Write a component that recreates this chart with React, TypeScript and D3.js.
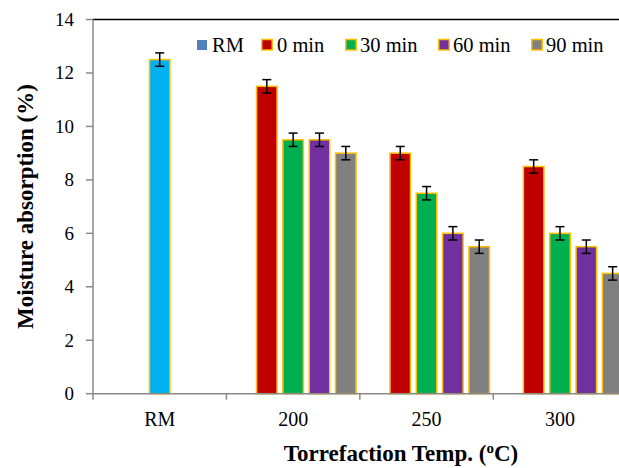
import React from "react";
import * as d3 from "d3";

const categories = ["RM", "200", "250", "300"];
const seriesNames = ["RM", "0 min", "30 min", "60 min", "90 min"];
const rmValues: (number | null)[] = [12.5, null, null, null];
const min0Values: (number | null)[] = [null, 11.5, 9.0, 8.5];
const min30Values: (number | null)[] = [null, 9.5, 7.5, 6.0];
const min60Values: (number | null)[] = [null, 9.5, 6.0, 5.5];
const min90Values: (number | null)[] = [null, 9.0, 5.5, 4.5];
const errorValues = [0.25, 0.25, 0.25, 0.25];
const yTicks = [0, 2, 4, 6, 8, 10, 12, 14];
const barColors = ["#00B0F0", "#C00000", "#00B050", "#7030A0", "#808080"];
const legendColors = ["#4F81BD", "#C00000", "#00B050", "#7030A0", "#808080"];

const W = 619;
const H = 468;
const left = 93;
const right = 626.7;
const top = 19.5;
const bottom = 393.7;
const FONT = "Liberation Serif, Times New Roman, serif";
const fs = { fontFamily: FONT };

export default function App() {
  const allSeries = [rmValues, min0Values, min30Values, min60Values, min90Values];
  const x = d3.scaleBand<string>().domain(categories).range([left, right]).padding(0);
  const xs = d3
    .scaleBand<string>()
    .domain(seriesNames)
    .range([0, x.bandwidth()])
    .paddingInner(0.163)
    .paddingOuter(0.116);
  const y = d3.scaleLinear().domain([0, 14]).range([bottom, top]);
  const bw = xs.bandwidth();

  const bars: React.ReactNode[] = [];
  allSeries.forEach((vals, si) => {
    vals.forEach((v, ci) => {
      if (v == null) return;
      const cat = categories[ci];
      const bx =
        cat === "RM"
          ? (x(cat) as number) + x.bandwidth() / 2 - bw / 2
          : (x(cat) as number) + (xs(seriesNames[si]) as number);
      const err = errorValues[ci];
      const cx = bx + bw / 2;
      bars.push(
        <g key={`b-${si}-${ci}`}>
          <rect
            x={bx + 0.75}
            y={y(v)}
            width={bw - 1.5}
            height={bottom - y(v)}
            fill={barColors[si]}
            stroke="#FFC000"
            strokeWidth={1.5}
          />
          <line x1={cx} x2={cx} y1={y(v + err)} y2={y(v - err)} stroke="#000" strokeWidth={1.5} />
          <line x1={cx - 4.5} x2={cx + 4.5} y1={y(v + err)} y2={y(v + err)} stroke="#000" strokeWidth={1.5} />
          <line x1={cx - 4.5} x2={cx + 4.5} y1={y(v - err)} y2={y(v - err)} stroke="#000" strokeWidth={1.5} />
        </g>
      );
    });
  });

  const legendSwatchX = [197, 261, 345, 438, 531];
  const legendTextX = [212, 277, 360, 453, 546];

  return (
    <svg
      width={W}
      height={H}
      style={{ position: "absolute", left: 0, top: 0, background: "#fff", fontFamily: FONT }}
    >
      <rect x={0} y={0} width={W} height={H} fill="#fff" />
      <line x1={left} x2={right} y1={top} y2={top} stroke="#000" strokeWidth={1.5} />
      <line x1={right} x2={right} y1={top} y2={bottom} stroke="#000" strokeWidth={1.5} />
      {bars}
      <line x1={left} x2={left} y1={top} y2={bottom} stroke="#898989" strokeWidth={1.5} />
      {yTicks.map((t) => (
        <g key={`yt-${t}`}>
          <line x1={left - 7} x2={left} y1={y(t)} y2={y(t)} stroke="#898989" strokeWidth={1.5} />
          <text x={74} y={y(t) + 6.5} textAnchor="end" fontSize={19} fill="#000" style={fs}>
            {t}
          </text>
        </g>
      ))}
      <line x1={left} x2={right} y1={bottom} y2={bottom} stroke="#898989" strokeWidth={1.5} />
      {categories.map((c) => (
        <g key={`xt-${c}`}>
          <line
            x1={x(c) as number}
            x2={x(c) as number}
            y1={bottom}
            y2={bottom + 6}
            stroke="#898989"
            strokeWidth={1.5}
          />
          <text
            x={(x(c) as number) + x.bandwidth() / 2}
            y={426}
            textAnchor="middle"
            fontSize={20}
            fill="#000"
            style={fs}
          >
            {c}
          </text>
        </g>
      ))}
      {seriesNames.map((s, i) => (
        <g key={`lg-${s}`}>
          {i === 0 ? (
            <rect x={legendSwatchX[i]} y={40} width={10} height={10} fill={legendColors[i]} />
          ) : (
            <rect
              x={legendSwatchX[i] + 0.75}
              y={39.5}
              width={10.5}
              height={10.5}
              fill={legendColors[i]}
              stroke="#FFC000"
              strokeWidth={1.5}
            />
          )}
          <text x={legendTextX[i]} y={51.5} fontSize={20.5} fill="#000" style={fs}>
            {s}
          </text>
        </g>
      ))}
      <text
        transform={`translate(33, ${(top + bottom) / 2}) rotate(-90)`}
        textAnchor="middle"
        fontSize={23}
        fontWeight="bold"
        fill="#000"
        style={fs}
      >
        Moisture absorption (%)
      </text>
      <text x={401} y={461} textAnchor="middle" fontSize={23} fontWeight="bold" fill="#000" style={fs}>
        Torrefaction Temp. (
        <tspan fontSize={15} dy={-8}>
          o
        </tspan>
        <tspan dy={8}>C)</tspan>
      </text>
    </svg>
  );
}
